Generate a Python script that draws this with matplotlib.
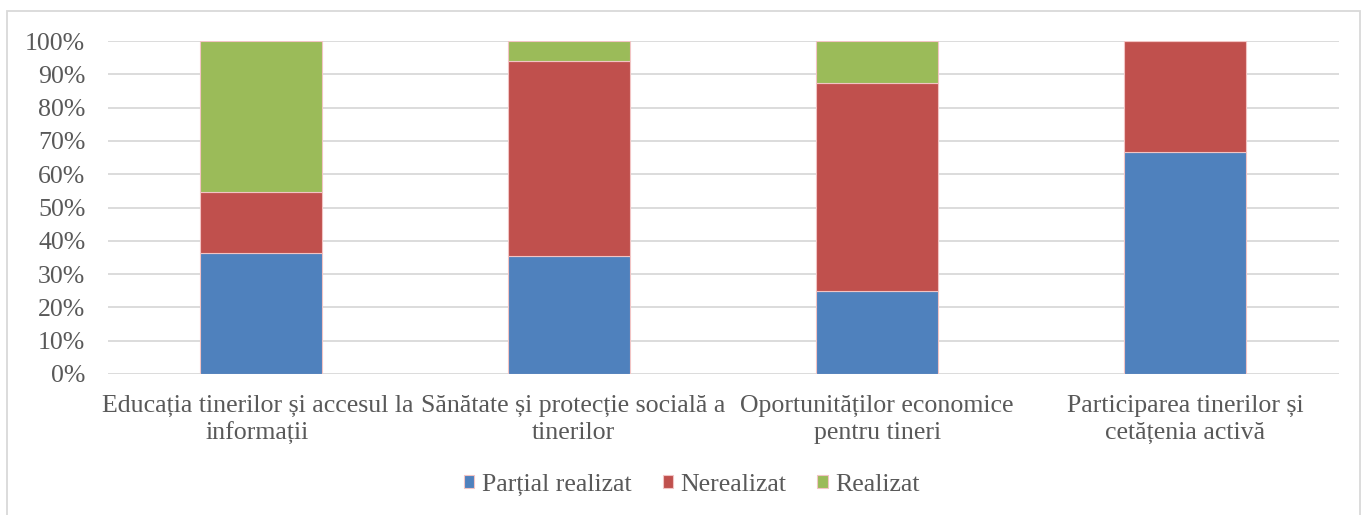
import numpy as np
import matplotlib
matplotlib.use("Agg")
import matplotlib.pyplot as plt
import matplotlib.transforms as mtransforms
from matplotlib.patches import Rectangle

categories = ["Educația tinerilor și accesul la\ninformații",
              "Sănătate și protecție socială a\ntinerilor",
              "Oportunităților economice\npentru tineri",
              "Participarea tinerilor și\ncetățenia activă"]
series = ["Parțial realizat", "Nerealizat", "Realizat"]
partial = [36.4, 35.3, 25.0, 66.7]
nerealizat = [18.2, 58.8, 62.5, 33.3]
realizat = [45.4, 5.9, 12.5, 0.0]
colors = ["#4f81bd", "#c0504d", "#9bbb59"]

plt.rcParams['font.family'] = ['Liberation Serif', 'DejaVu Serif']
fs = 18.6

fig = plt.figure(figsize=(13.65, 5.15), dpi=100)
ax = fig.add_axes([107.5/1365, 1 - 374/515, (1339-107.5)/1365, 333/515])

x = np.arange(len(categories))
bottom = np.zeros(len(categories))
for name, vals, c in zip(series, [partial, nerealizat, realizat], colors):
    ax.bar(x, vals, 0.396, bottom=bottom, color=c, edgecolor="#f2c4c4",
           linewidth=0.8, label=name, zorder=3)
    bottom += np.array(vals)

ax.set_xlim(-0.5, len(categories) - 0.5)
ax.set_ylim(0, 100)
ax.set_yticks(np.arange(0, 101, 10))
ax.set_yticklabels(["%d%%" % v for v in range(0, 101, 10)])
ax.yaxis.grid(True, color="#d9d9d9", linewidth=1.3, zorder=0)
ax.set_xticks(x)
ax.set_xticklabels(categories, linespacing=1.3)
for s in ax.spines.values():
    s.set_visible(False)
ax.tick_params(length=0, labelsize=fs, colors="#595959")
ax.tick_params(axis="y", pad=16)
ax.tick_params(axis="x", pad=15)

# nudge the two long labels apart so they don't run together
for lbl, dx in zip(ax.get_xticklabels(), [-4, 4, 0, 0]):
    lbl.set_transform(lbl.get_transform() +
                      mtransforms.ScaledTranslation(dx / 100, 0, fig.dpi_scale_trans))

ax.legend(loc="center", bbox_to_anchor=(692/1365, 1 - 485/515),
          bbox_transform=fig.transFigure, ncol=3, frameon=False,
          fontsize=fs, handlelength=0.39, handleheight=0.39,
          handletextpad=0.3, columnspacing=1.2, labelcolor="#595959")

fig.patches.append(Rectangle((7/1365, -0.05), (1360-7)/1365, 1.05 - 11/515,
                             transform=fig.transFigure, fill=False,
                             edgecolor="#d9d9d9", linewidth=1.3))

fig.savefig("out.png", dpi=100)
